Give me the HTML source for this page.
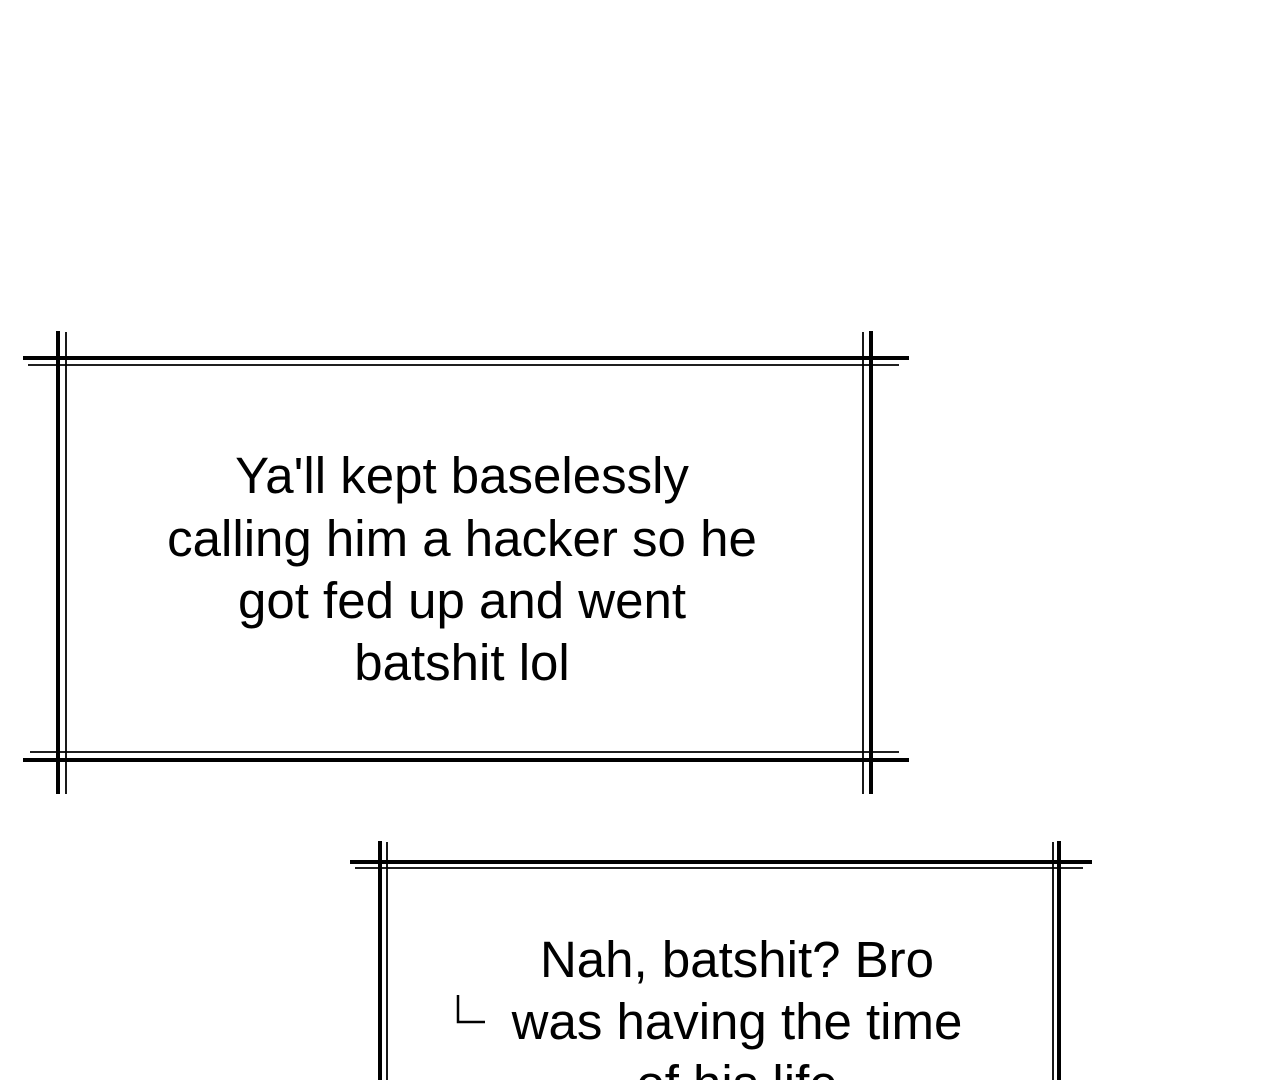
<!DOCTYPE html>
<html><head><style>
html,body{margin:0;padding:0;background:#fff;width:1280px;height:1080px;overflow:hidden}
text{font-family:"Liberation Sans",Helvetica,Arial,sans-serif;font-size:51px;fill:#000}
</style></head><body>
<svg width="1280" height="1080" xmlns="http://www.w3.org/2000/svg">
<g stroke="#000" fill="none">
<line x1="23" y1="358" x2="909" y2="358" stroke-width="4"/>
<line x1="28" y1="365" x2="899" y2="365" stroke-width="1.8"/>
<line x1="23" y1="760" x2="909" y2="760" stroke-width="4"/>
<line x1="30" y1="752" x2="899" y2="752" stroke-width="1.8"/>
<line x1="58" y1="331" x2="58" y2="794" stroke-width="4"/>
<line x1="66" y1="332" x2="66" y2="794" stroke-width="1.8"/>
<line x1="871" y1="331" x2="871" y2="794" stroke-width="4"/>
<line x1="863" y1="332" x2="863" y2="794" stroke-width="1.8"/>
<line x1="350" y1="862" x2="1092" y2="862" stroke-width="4"/>
<line x1="355" y1="868" x2="1083" y2="868" stroke-width="1.8"/>
<line x1="380" y1="841" x2="380" y2="1080" stroke-width="4"/>
<line x1="387" y1="842" x2="387" y2="1080" stroke-width="1.8"/>
<line x1="1059" y1="841" x2="1059" y2="1080" stroke-width="4"/>
<line x1="1053" y1="842" x2="1053" y2="1080" stroke-width="1.8"/>
<polyline points="458,995 458,1022 485,1022" stroke-width="2.5"/>
</g>
<g text-anchor="middle">
<text x="462" y="493">Ya'll kept baselessly</text>
<text x="462" y="556">calling him a hacker so he</text>
<text x="462" y="618">got fed up and went</text>
<text x="462" y="680">batshit lol</text>
<text x="737" y="977">Nah, batshit? Bro</text>
<text x="737" y="1039">was having the time</text>
<text x="737" y="1101">of his life</text>
</g>
</svg>
</body></html>
